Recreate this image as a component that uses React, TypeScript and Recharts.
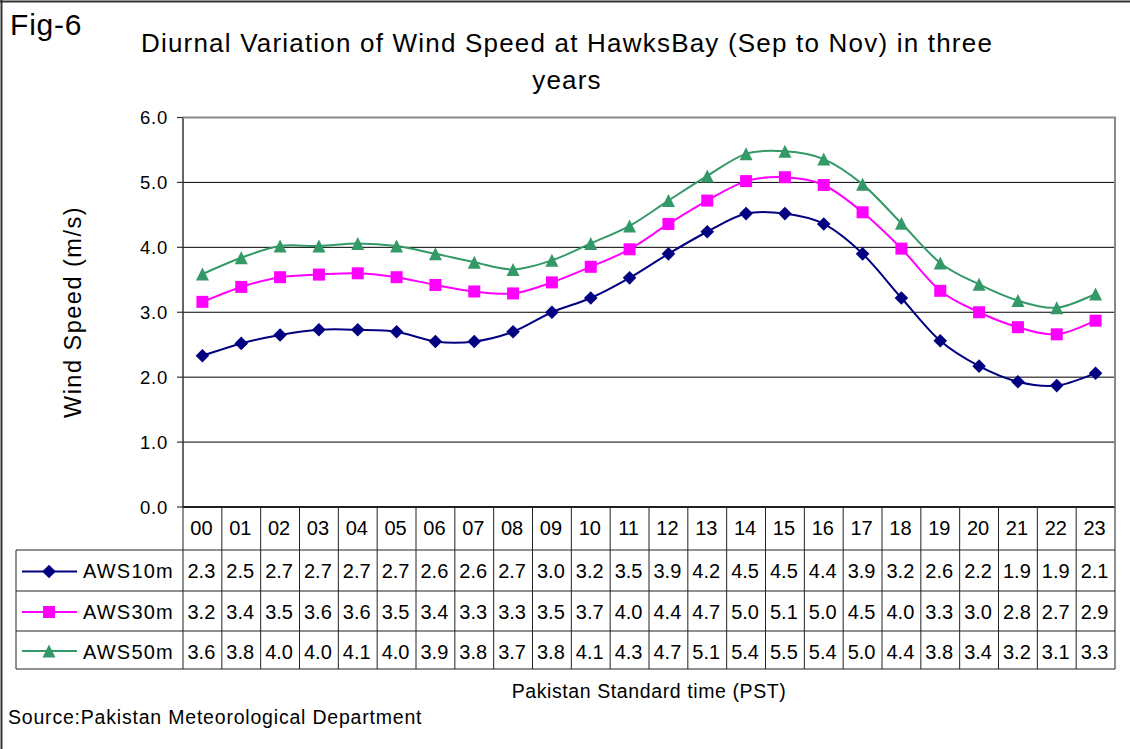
import React from 'react';
import { LineChart, Line, XAxis, YAxis, CartesianGrid } from 'recharts';

const HOURS = ['00', '01', '02', '03', '04', '05', '06', '07', '08', '09', '10', '11',
  '12', '13', '14', '15', '16', '17', '18', '19', '20', '21', '22', '23'];

// plotted values
const AWS10 = [2.33, 2.52, 2.65, 2.73, 2.73, 2.70, 2.55, 2.55, 2.70, 3.00, 3.22, 3.53,
  3.90, 4.24, 4.52, 4.52, 4.36, 3.90, 3.22, 2.56, 2.17, 1.93, 1.87, 2.06];
const AWS30 = [3.16, 3.39, 3.54, 3.58, 3.60, 3.54, 3.42, 3.32, 3.29, 3.46, 3.70, 3.97,
  4.36, 4.72, 5.02, 5.08, 4.96, 4.54, 3.98, 3.33, 3.00, 2.77, 2.66, 2.87];
const AWS50 = [3.59, 3.84, 4.02, 4.02, 4.06, 4.02, 3.90, 3.77, 3.66, 3.80, 4.06, 4.33,
  4.72, 5.10, 5.44, 5.48, 5.36, 4.97, 4.37, 3.76, 3.43, 3.18, 3.07, 3.28];

// data table as printed under the chart
const TABLE10 = ['2.3', '2.5', '2.7', '2.7', '2.7', '2.7', '2.6', '2.6', '2.7', '3.0', '3.2', '3.5',
  '3.9', '4.2', '4.5', '4.5', '4.4', '3.9', '3.2', '2.6', '2.2', '1.9', '1.9', '2.1'];
const TABLE30 = ['3.2', '3.4', '3.5', '3.6', '3.6', '3.5', '3.4', '3.3', '3.3', '3.5', '3.7', '4.0',
  '4.4', '4.7', '5.0', '5.1', '5.0', '4.5', '4.0', '3.3', '3.0', '2.8', '2.7', '2.9'];
const TABLE50 = ['3.6', '3.8', '4.0', '4.0', '4.1', '4.0', '3.9', '3.8', '3.7', '3.8', '4.1', '4.3',
  '4.7', '5.1', '5.4', '5.5', '5.4', '5.0', '4.4', '3.8', '3.4', '3.2', '3.1', '3.3'];

const Y_TICKS = [0, 1, 2, 3, 4, 5, 6];

const SERIES = [
  { key: 'aws10', name: 'AWS10m', color: '#000080', shape: 'diamond', table: TABLE10 },
  { key: 'aws30', name: 'AWS30m', color: '#FF00FF', shape: 'square', table: TABLE30 },
  { key: 'aws50', name: 'AWS50m', color: '#339966', shape: 'triangle', table: TABLE50 },
];

const data = HOURS.map((h, i) => ({ hour: h, aws10: AWS10[i], aws30: AWS30[i], aws50: AWS50[i] }));

const W = 1130;
const H = 749;
const PLOT_L = 183;
const PLOT_R = 1115;
const PLOT_T = 117.5;
const PLOT_B = 507;
const COL_W = (PLOT_R - PLOT_L) / HOURS.length;
const TABLE_L = 16;
const ROW_LINES = [550, 591, 631, 669];
const HEADER_BASE = 535;
const ROW_BASE = [578, 619, 659];
const FONT = '"Liberation Sans", Arial, sans-serif';

// Excel style smoothed line (Catmull-Rom as cubic bezier)
const excelCurve = (ctx: any) => {
  let pts: number[][] = [];
  return {
    areaStart() {},
    areaEnd() {},
    lineStart() { pts = []; },
    point(x: number, y: number) { pts.push([+x, +y]); },
    lineEnd() {
      if (!pts.length) return;
      ctx.moveTo(pts[0][0], pts[0][1]);
      for (let i = 0; i < pts.length - 1; i++) {
        const p0 = pts[Math.max(0, i - 1)];
        const p1 = pts[i];
        const p2 = pts[i + 1];
        const p3 = pts[Math.min(pts.length - 1, i + 2)];
        ctx.bezierCurveTo(
          p1[0] + (p2[0] - p0[0]) / 6, p1[1] + (p2[1] - p0[1]) / 6,
          p2[0] - (p3[0] - p1[0]) / 6, p2[1] - (p3[1] - p1[1]) / 6,
          p2[0], p2[1],
        );
      }
    },
  };
};

const Marker = ({ cx, cy, shape, color }: any) => {
  if (cx == null || cy == null) return null;
  if (shape === 'diamond') {
    const r = 6.8;
    return <polygon points={`${cx},${cy - r} ${cx + r},${cy} ${cx},${cy + r} ${cx - r},${cy}`} fill={color} />;
  }
  if (shape === 'square') {
    const s = 6;
    return <rect x={cx - s} y={cy - s} width={s * 2} height={s * 2} fill={color} />;
  }
  const h = 6.5;
  return <polygon points={`${cx},${cy - h} ${cx + h},${cy + h} ${cx - h},${cy + h}`} fill={color} />;
};

const TableColumn = (props: any) => {
  const { x, payload } = props;
  const i = HOURS.indexOf(payload.value);
  const left = x - COL_W / 2;
  return (
    <g fontFamily={FONT} fontSize={20} fill="#000">
      <line x1={left} x2={left} y1={PLOT_B} y2={ROW_LINES[3]} stroke="#222" />
      {i === HOURS.length - 1 && (
        <line x1={left + COL_W} x2={left + COL_W} y1={PLOT_B} y2={ROW_LINES[3]} stroke="#222" />
      )}
      <text x={x - 1} y={HEADER_BASE} textAnchor="middle">{payload.value}</text>
      {SERIES.map((s, r) => (
        <text key={s.key} x={x - 1} y={ROW_BASE[r]} textAnchor="middle">{s.table[i]}</text>
      ))}
    </g>
  );
};

export default function App() {
  return (
    <div style={{ position: 'absolute', left: 0, top: 0, width: W, height: H, background: '#fff' }}>
      <LineChart
        width={W}
        height={H}
        data={data}
        margin={{ top: PLOT_T, right: W - PLOT_R, bottom: H - PLOT_B - 170, left: 0 }}
      >
        <CartesianGrid vertical={false} stroke="#000" strokeWidth={1} />
        <XAxis
          dataKey="hour"
          height={170}
          interval={0}
          padding={{ left: COL_W / 2, right: COL_W / 2 }}
          tickLine={false}
          axisLine={{ stroke: '#000', strokeWidth: 1.5 }}
          tick={<TableColumn />}
        />
        <YAxis
          width={PLOT_L}
          domain={[0, 6]}
          ticks={Y_TICKS}
          tickFormatter={(v: number) => v.toFixed(1)}
          axisLine={{ stroke: '#333', strokeWidth: 1.5 }}
          tickLine={{ stroke: '#333', strokeWidth: 1.2 }}
          tickSize={6}
          tickMargin={9}
          tick={{ fill: '#000', fontSize: 18.5, fontFamily: FONT, letterSpacing: 0.8 }}
        />
        {SERIES.map((s) => (
          <Line
            key={s.key}
            dataKey={s.key}
            name={s.name}
            type={excelCurve as any}
            stroke={s.color}
            strokeWidth={2}
            dot={(p: any) => <Marker key={`${s.key}-${p.index}`} cx={p.cx} cy={p.cy} shape={s.shape} color={s.color} />}
            activeDot={false}
            isAnimationActive={false}
          />
        ))}
      </LineChart>

      <svg
        width={W}
        height={H}
        style={{ position: 'absolute', left: 0, top: 0, pointerEvents: 'none' }}
        fontFamily={FONT}
      >
        <line x1={0} x2={W} y1={1.5} y2={1.5} stroke="#333" strokeWidth={2} />
        <line x1={1.5} x2={1.5} y1={0} y2={H} stroke="#333" strokeWidth={2} />
        <polyline
          points={`${PLOT_L},${PLOT_T} ${PLOT_R},${PLOT_T} ${PLOT_R},${PLOT_B}`}
          fill="none"
          stroke="#888"
          strokeWidth={2}
        />
        <text x={10} y={35} fontSize={30} letterSpacing={0.8}>Fig-6</text>
        <text x={567} y={52} fontSize={26} letterSpacing={1.2} textAnchor="middle">
          Diurnal Variation of Wind Speed at HawksBay (Sep to Nov) in three
        </text>
        <text x={567} y={89} fontSize={26} letterSpacing={1.2} textAnchor="middle">years</text>
        <text
          x={73}
          y={312}
          fontSize={23.5}
          letterSpacing={1.5}
          textAnchor="middle"
          dominantBaseline="central"
          transform="rotate(-90 73 312)"
        >
          Wind Speed (m/s)
        </text>
        <text x={649} y={698} fontSize={19.5} letterSpacing={0.6} textAnchor="middle">
          Pakistan Standard time (PST)
        </text>
        <text x={8} y={724} fontSize={19.5} letterSpacing={0.8}>
          Source:Pakistan Meteorological Department
        </text>

        {ROW_LINES.map((y) => (
          <line key={y} x1={TABLE_L} x2={PLOT_R} y1={y} y2={y} stroke="#222" />
        ))}
        <line x1={TABLE_L} x2={TABLE_L} y1={ROW_LINES[0]} y2={ROW_LINES[3]} stroke="#222" />
        {SERIES.map((s, r) => {
          const cy = (ROW_LINES[r] + ROW_LINES[r + 1]) / 2 + 1;
          return (
            <g key={s.key}>
              <line x1={22} x2={77} y1={cy} y2={cy} stroke={s.color} strokeWidth={2} />
              <Marker cx={49} cy={cy} shape={s.shape} color={s.color} />
              <text x={83} y={ROW_BASE[r]} fontSize={20} letterSpacing={1.2}>{s.name}</text>
            </g>
          );
        })}
      </svg>
    </div>
  );
}
